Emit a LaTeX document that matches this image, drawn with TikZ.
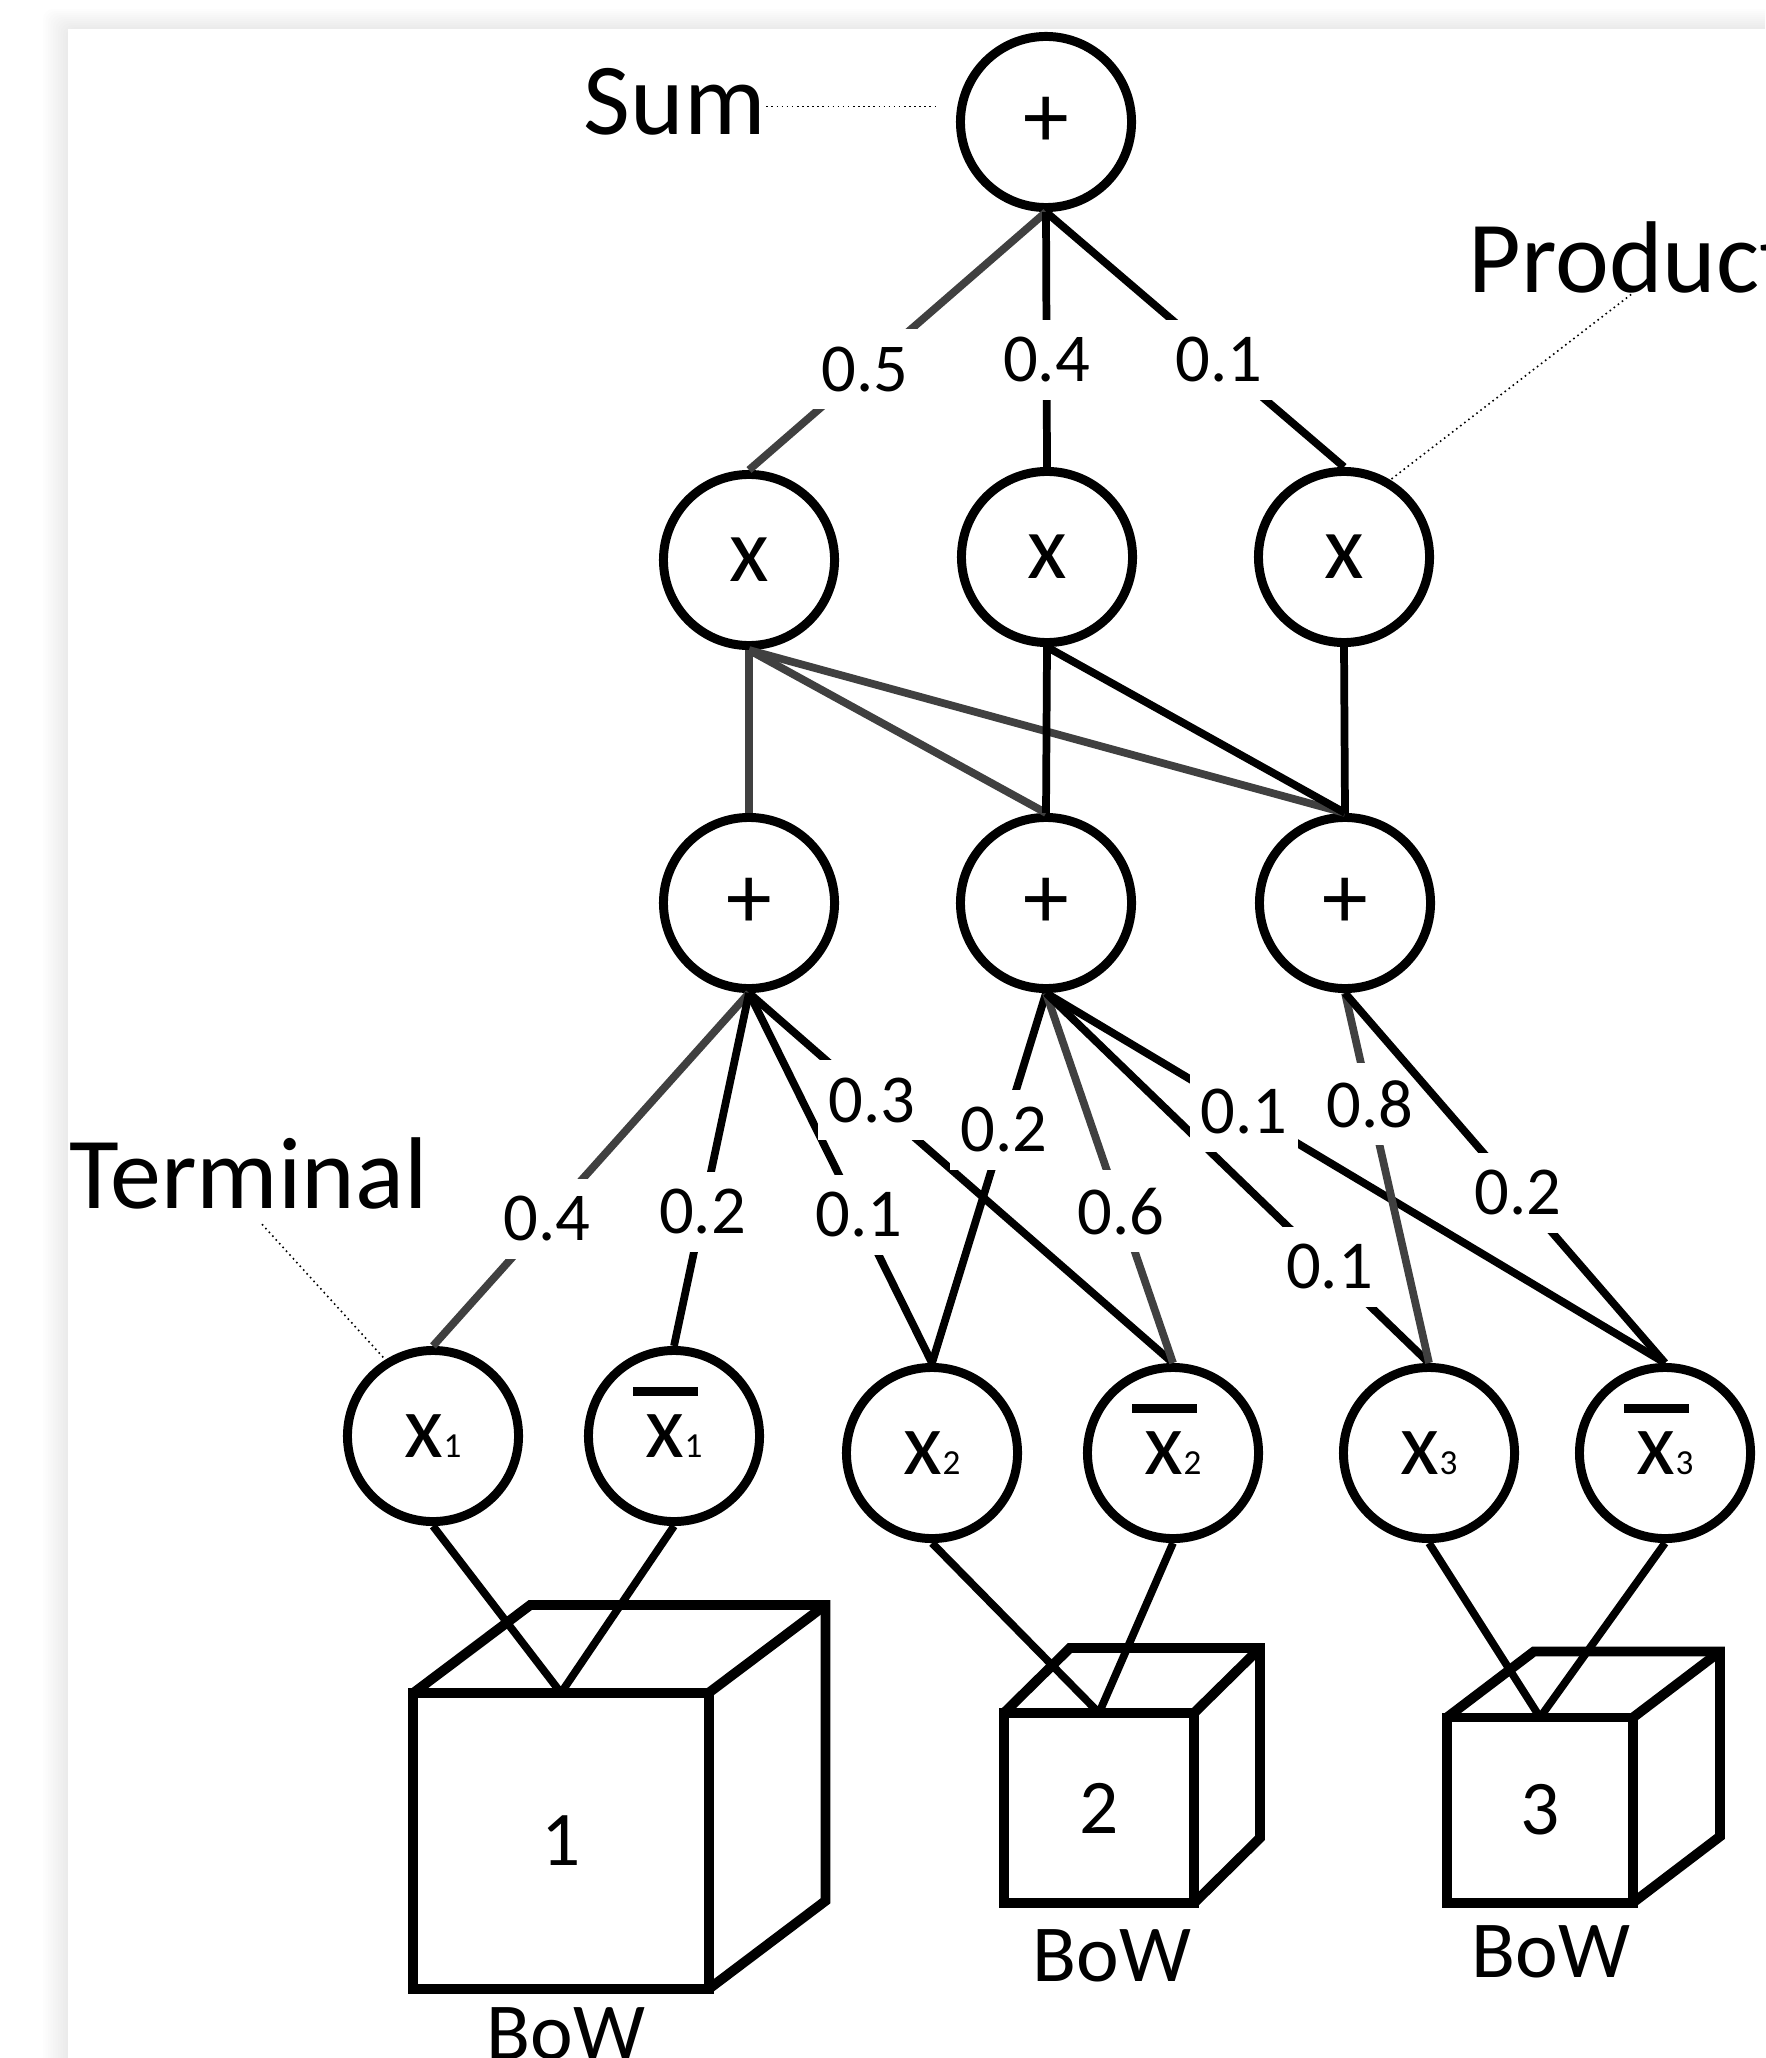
\documentclass[tikz,border=0pt]{standalone}
\usepackage{fontspec}
\setmainfont{Carlito}
\usetikzlibrary{positioning}
\definecolor{edgegray}{RGB}{64,64,64}
% terminal variables, plain and negated
\newcommand{\tvar}[1]{x{\fontsize{10pt}{12pt}\selectfont #1}}
\newcommand{\tneg}[1]{\smash{\rlap{\kern-3.6pt\rule[17.4pt]{18.5pt}{2.6pt}}}\tvar{#1}}
\tikzset{
  opnode/.style={circle,draw,line width=2.55pt,fill=white,minimum size=1.71cm,inner sep=0pt,font=\fontsize{26pt}{30pt}\selectfont},
  termnode/.style={opnode,font=\fontsize{25.5pt}{30pt}\selectfont},
  bowbox/.style={rectangle,draw,line width=2.8pt,outer sep=0pt,inner sep=0pt,font=\fontsize{22pt}{26pt}\selectfont},
  cubeline/.style={line width=2.8pt,line join=miter},
  lbltext/.style={inner sep=0pt,font=\fontsize{29pt}{34pt}\selectfont},
  bowtag/.style={inner sep=0pt,font=\fontsize{23pt}{28pt}\selectfont},
  wlabel/.style={fill=white,text=black,inner xsep=3pt,inner ysep=5pt,font=\fontsize{19.5pt}{24pt}\selectfont},
  blkedge/.style={line width=2.2pt,black},
  gryedge/.style={line width=2.2pt,edgegray},
  leader/.style={line width=0.45pt,densely dotted}
}

\begin{document}
\begin{tikzpicture}[x=0.01cm,y=-0.01cm]
  \useasboundingbox (0,0) rectangle (1765,2058);
  \clip (0,0) rectangle (1765,2058);

  % sheet with a soft shadow
  \fill[white] (0,0) rectangle (1765,2058);
  \foreach \k in {1,...,10}
    \fill[black,opacity=0.008,rounded corners=0.1cm] ({68-2.5*\k},{29-2*\k}) rectangle (1800,2100);
  \fill[white] (68,29) rectangle (1800,2100);

  % sum and product nodes
  \node[opnode] (root) at (1046,122) {+};
  \node[opnode] (p1) at (749,560) {x};
  \node[opnode] (p2) at (1047,557) {x};
  \node[opnode] (p3) at (1344,557) {x};
  \node[opnode] (s1) at (749,903) {+};
  \node[opnode] (s2) at (1046,903) {+};
  \node[opnode] (s3) at (1345,903) {+};

  % terminals
  \node[termnode] (t1) at (433,1436) {\tvar{1}};
  \node[termnode] (n1) at (674,1436) {\tneg{1}};
  \node[termnode] (t2) at (932,1453) {\tvar{2}};
  \node[termnode] (n2) at (1173,1453) {\tneg{2}};
  \node[termnode] (t3) at (1429,1453) {\tvar{3}};
  \node[termnode] (n3) at (1665,1453) {\tneg{3}};

  % bag-of-words cubes
  \node[bowbox,minimum width=2.95cm,minimum height=2.96cm] (c1) at (561,1841) {1};
  \node[bowbox,minimum width=1.90cm,minimum height=1.90cm] (c2) at (1099,1808) {2};
  \node[bowbox,minimum width=1.86cm,minimum height=1.85cm] (c3) at (1540,1810) {3};
  \draw[cubeline] (c1.north west) -- ++(117,-88) -- ++(295,0) -- ++(0,296) -- (c1.south east);
  \draw[cubeline] (c1.north east) -- ++(117,-88);
  \draw[cubeline] (c2.north west) -- ++(66,-65) -- ++(190,0) -- ++(0,190) -- (c2.south east);
  \draw[cubeline] (c2.north east) -- ++(66,-65);
  \draw[cubeline] (c3.north west) -- ++(87,-66) -- ++(186,0) -- ++(0,185) -- (c3.south east);
  \draw[cubeline] (c3.north east) -- ++(87,-66);
  \node[bowtag,below=0.18cm of c1,xshift=0.05cm] (bow1) {BoW};
  \node[bowtag,below=0.26cm of c2,xshift=0.13cm] (bow2) {BoW};
  \node[bowtag,below=0.22cm of c3,xshift=0.11cm] (bow3) {BoW};

  % side labels
  \node[lbltext,anchor=base west] (sumtag) at (583,135) {Sum};
  \node[lbltext,anchor=base west] (prodtag) at (1468,293) {Product};
  \node[lbltext,anchor=base west] (termtag) at (69,1208) {Terminal};
  \draw[leader,shorten >=0.2cm] (sumtag.east |- root.170) -- (root.170);
  \draw[leader] (prodtag.south) -- (p3.59);
  \draw[leader,shorten <=0.2cm] (termtag.south) -- (t1.122);

  % root weights
  \draw[gryedge] (root.south) -- (p1.north) node[wlabel,pos=0.61] {0.5};
  \draw[blkedge] (root.south) -- (p2.north) node[wlabel,pos=0.58] {0.4};
  \draw[blkedge] (root.south) -- (p3.north) node[wlabel,pos=0.58] {0.1};

  % products to sums
  \draw[gryedge] (p1.south) -- (s1.north);
  \draw[gryedge] (p1.south) -- (s2.north);
  \draw[gryedge] (p1.south) -- (s3.north);
  \draw[blkedge] (p2.south) -- (s2.north);
  \draw[blkedge] (p2.south) -- (s3.north);
  \draw[blkedge] (p3.south) -- (s3.north);

  % sums to terminals
  \draw[gryedge] (s1.south) -- (t1.north) node[wlabel,pos=0.64] {0.4};
  \draw[blkedge] (s1.south) -- (n1.north) node[wlabel,pos=0.62] {0.2};
  \draw[blkedge] (s1.south) -- (t2.north) node[wlabel,pos=0.60] {0.1};
  \draw[blkedge] (s1.south) -- (n2.north) node[wlabel,pos=0.29] {0.3};
  \draw[blkedge] (s2.south) -- (t2.north) node[wlabel,pos=0.37] {0.2};
  \draw[gryedge] (s2.south) -- (n2.north) node[wlabel,pos=0.59] {0.6};
  \draw[blkedge] (s2.south) -- (t3.north) node[wlabel,pos=0.74] {0.1};
  \draw[blkedge] (s2.south) -- (n3.north) node[wlabel,pos=0.32] {0.1};
  \draw[gryedge] (s3.south) -- (t3.north) node[wlabel,pos=0.30] {0.8};
  \draw[blkedge] (s3.south) -- (n3.north) node[wlabel,pos=0.54] {0.2};

  % terminals to their bags
  \draw[blkedge] (t1.south) -- (c1.north);
  \draw[blkedge] (n1.south) -- (c1.north);
  \draw[blkedge] (t2.south) -- (c2.north);
  \draw[blkedge] (n2.south) -- (c2.north);
  \draw[blkedge] (t3.south) -- (c3.north);
  \draw[blkedge] (n3.south) -- (c3.north);
\end{tikzpicture}
\end{document}
